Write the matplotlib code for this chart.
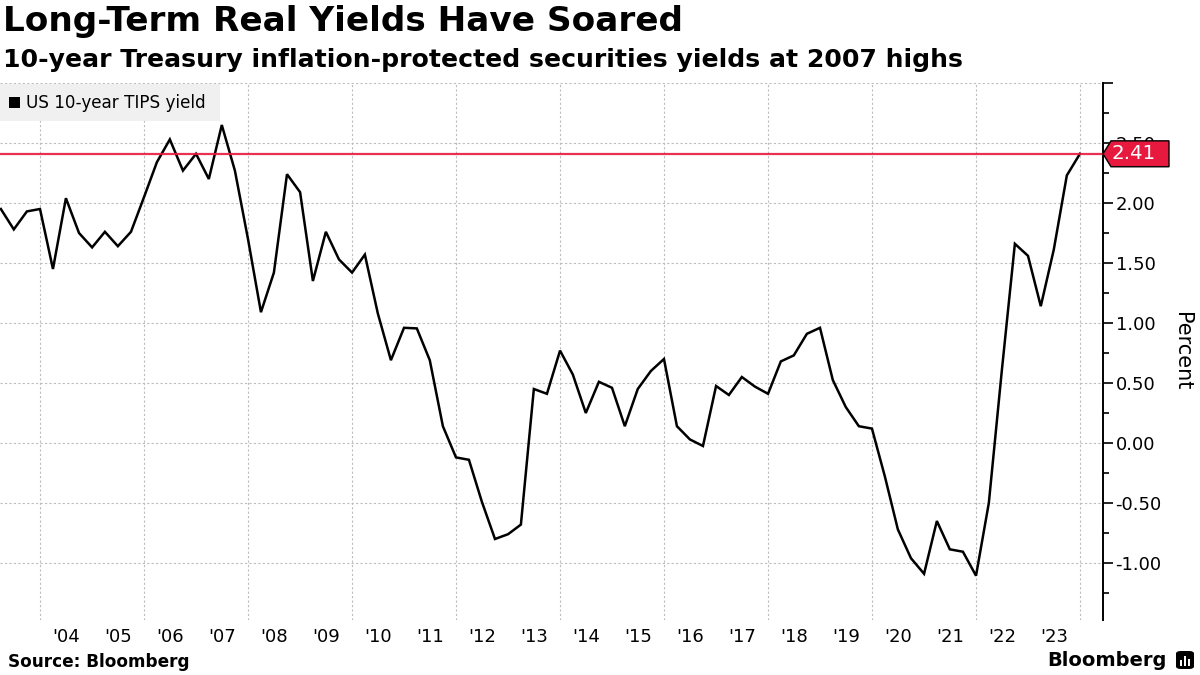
import matplotlib
matplotlib.use("Agg")
import matplotlib.pyplot as plt
import matplotlib.dates as mdates
import matplotlib.ticker as mticker
import matplotlib.transforms as mtransforms
from matplotlib.patches import Polygon, FancyBboxPatch, Rectangle
import pandas as pd
import datetime as dt

# ---- data (quarterly, quarter-end) ----
dates = pd.date_range("2003-03-31", periods=84, freq="QE")
tips_yield = [
    1.95, 1.78, 1.93, 1.95, 1.45, 2.04, 1.75, 1.63, 1.76, 1.64, 1.76, 2.05,
    2.34, 2.53, 2.27, 2.41, 2.20, 2.65, 2.27, 1.70, 1.09, 1.42, 2.24, 2.09,
    1.35, 1.76, 1.53, 1.42, 1.57, 1.08, 0.69, 0.96, 0.955, 0.69, 0.14, -0.12,
    -0.14, -0.49, -0.80, -0.76, -0.68, 0.45, 0.41, 0.77, 0.57, 0.25, 0.51, 0.46,
    0.14, 0.45, 0.60, 0.70, 0.14, 0.03, -0.025, 0.475, 0.40, 0.55, 0.47, 0.41,
    0.68, 0.73, 0.91, 0.96, 0.525, 0.30, 0.14, 0.12, -0.28, -0.72, -0.96, -1.09,
    -0.65, -0.886, -0.906, -1.106, -0.50, 0.60, 1.66, 1.56, 1.14, 1.61, 2.23, 2.41,
]
last_value = 2.41
series_label = "US 10-year TIPS yield"
title = "Long-Term Real Yields Have Soared"
subtitle = "10-year Treasury inflation-protected securities yields at 2007 highs"
source = "Source: Bloomberg"
y_ticks = [-1.0, -0.5, 0.0, 0.5, 1.0, 1.5, 2.0, 2.5, 3.0]
y_tick_labels = ["-1.00", "-0.50", "0.00", "0.50", "1.00", "1.50", "2.00", "2.50", ""]
year_labels = list(range(2004, 2024))

RED = "#e8193f"

fig = plt.figure(figsize=(12, 6.75), dpi=100)
ax = fig.add_axes([0.0, 1 - 620 / 675, 1103 / 1200, (620 - 83) / 675])

ax.plot(dates, tips_yield, color="black", lw=1.8, zorder=3, solid_joinstyle="miter")
ax.axhline(last_value, color=RED, lw=1.6, zorder=4, alpha=0.9)

ax.set_ylim(-1.475, 3.0)
ax.set_xlim(dt.datetime(2003, 3, 25), dt.datetime(2024, 6, 10))

# y axis on right
ax.yaxis.tick_right()
ax.yaxis.set_label_position("right")
ax.set_yticks(y_ticks)
ax.set_yticklabels(y_tick_labels)
ax.set_yticks([v + 0.25 for v in y_ticks[:-1]] + [-1.25], minor=True)
ax.tick_params(axis="y", which="major", length=7, width=1.2, labelsize=13, pad=2, colors="black")
ax.tick_params(axis="y", which="minor", length=4, width=1.2)
ax.set_ylabel("Percent", fontsize=15, rotation=270, labelpad=22)

# x axis: gridlines at even years, labels mid-year
ax.xaxis.set_major_locator(mdates.YearLocator(2))
ax.xaxis.set_major_formatter(mticker.NullFormatter())
ax.xaxis.set_minor_locator(mticker.FixedLocator([mdates.date2num(dt.datetime(y, 7, 1)) for y in year_labels]))
ax.xaxis.set_minor_formatter(mdates.DateFormatter("'%y"))
ax.tick_params(axis="x", which="both", length=0, labelsize=13, pad=6)

ax.grid(True, which="major", axis="both", color="#bdbdbd", lw=0.8, linestyle=(0, (2, 2)))

for s in ["top", "left", "bottom"]:
    ax.spines[s].set_visible(False)
ax.spines["right"].set_linewidth(1.4)

# legend box
fig.patches.append(Rectangle((0, 1 - 121 / 675), 220 / 1200, 37 / 675, transform=fig.transFigure,
                             facecolor="#f0f0f0", edgecolor="none", zorder=5))
fig.patches.append(Rectangle((9 / 1200, 1 - 108 / 675), 11 / 1200, 11 / 675, transform=fig.transFigure,
                             facecolor="black", edgecolor="none", zorder=6))
fig.text(26 / 1200, 1 - 103 / 675, series_label, fontsize=12.1, va="center", ha="left", zorder=7)

# last value tag
trans = mtransforms.blended_transform_factory(fig.transFigure, ax.transData)
h = 0.108
tag = Polygon([(1103 / 1200, last_value), (1111 / 1200, last_value + h), (1169 / 1200, last_value + h),
               (1169 / 1200, last_value - h), (1111 / 1200, last_value - h)], closed=True,
              transform=trans, facecolor=RED, edgecolor="black", lw=1.0, clip_on=False, zorder=10)
ax.add_patch(tag)
ax.text(1134 / 1200, last_value, f"{last_value:.2f}", transform=trans, color="white", fontsize=14.3,
        ha="center", va="center", zorder=11, clip_on=False)

# titles
fig.text(3 / 1200, 1 - 22 / 675, title, fontsize=24.7, fontweight="bold", va="center", ha="left")
fig.text(3 / 1200, 1 - 60 / 675, subtitle, fontsize=18.1, fontweight="bold", va="center", ha="left")
fig.text(8 / 1200, 1 - 662 / 675, source, fontsize=12.2, fontweight="bold", va="center", ha="left")

# Bloomberg logo
fig.text(1167 / 1200, 1 - 660 / 675, "Bloomberg", fontsize=14, fontweight="bold", va="center", ha="right")
fig.patches.append(FancyBboxPatch((1176 / 1200, 1 - 669 / 675), 18 / 1200, 18 / 675,
                                  boxstyle="round,pad=0,rounding_size=0.004", transform=fig.transFigure,
                                  facecolor="black", edgecolor="none"))
for i, bh in enumerate([6, 10, 7]):
    fig.patches.append(Rectangle(((1180 + i * 4) / 1200, 1 - 666 / 675), 2 / 1200, bh / 675,
                                 transform=fig.transFigure, facecolor="white", edgecolor="none"))

fig.savefig("out.png", dpi=100)
